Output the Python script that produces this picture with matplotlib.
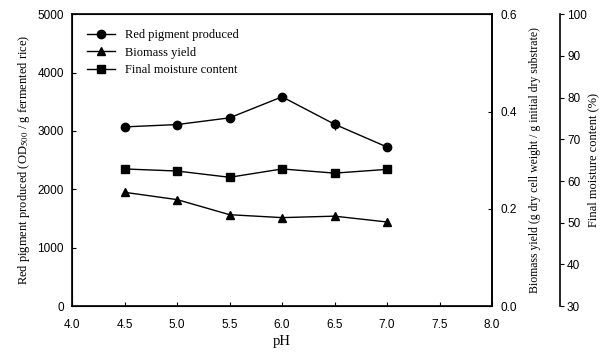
import matplotlib
matplotlib.use("Agg")
import matplotlib.pyplot as plt

# values
ph = [4.5, 5.0, 5.5, 6.0, 6.5, 7.0]
pigment = [3070, 3110, 3225, 3585, 3115, 2725]
pigment_err = [40, 40, 50, 40, 90, 40]
biomass = [0.234, 0.219, 0.188, 0.182, 0.185, 0.173]
biomass_err = [0.003, 0.003, 0.004, 0.003, 0.004, 0.003]
moisture = [62.9, 62.4, 60.9, 62.9, 61.9, 62.8]
moisture_err = [0.4, 0.4, 0.9, 0.5, 0.4, 0.4]

serif = "Liberation Serif"
sans = "Liberation Sans"
plt.rcParams['mathtext.fontset'] = 'stix'

fig = plt.figure(figsize=(6.06, 3.54), dpi=100)
ax = fig.add_axes([0.119, 0.135, 0.693, 0.825])
ax2 = ax.twinx()
ax3 = ax.twinx()
# 68 px outward from the biomass axis (offset is in points)
ax3.spines['right'].set_position(('outward', 68 * 72 / 100))
for s in ['top', 'left', 'bottom']:
    ax3.spines[s].set_visible(False)

kw = dict(color='black', lw=1, markersize=6)
l1, = ax.plot(ph, pigment, marker='o', **kw)
l2, = ax2.plot(ph, biomass, marker='^', **kw)
l3, = ax3.plot(ph, moisture, marker='s', **kw)
ekw = dict(fmt='none', ecolor='black', elinewidth=0.8, capsize=0)
ax.errorbar(ph, pigment, yerr=pigment_err, **ekw)
ax2.errorbar(ph, biomass, yerr=biomass_err, **ekw)
ax3.errorbar(ph, moisture, yerr=moisture_err, **ekw)

ax.set_xlim(4.0, 8.0)
ax.set_ylim(0, 5000)
ax2.set_ylim(0, 0.6)
ax3.set_ylim(30, 100)
ax.set_xticks([4.0, 4.5, 5.0, 5.5, 6.0, 6.5, 7.0, 7.5, 8.0])
ax.set_xticklabels(['4.0', '4.5', '5.0', '5.5', '6.0', '6.5', '7.0', '7.5', '8.0'])
ax.set_yticks(range(0, 5001, 1000))
ax2.set_yticks([0.0, 0.2, 0.4, 0.6])
ax2.set_yticklabels(['0.0', '0.2', '0.4', '0.6'])
ax3.set_yticks(range(30, 101, 10))

for a in (ax, ax2, ax3):
    a.tick_params(labelsize=8.5, direction='in', length=3, width=0.8)
    for lab in a.get_xticklabels() + a.get_yticklabels():
        lab.set_fontfamily(sans)
ax.tick_params(axis='x', pad=9)
ax.tick_params(axis='y', pad=6)
ax2.tick_params(axis='y', pad=6)
ax3.tick_params(direction='out', pad=2)
for sp in ax.spines.values():
    sp.set_linewidth(1.2)
ax2.spines['right'].set_linewidth(1.2)
ax3.spines['right'].set_linewidth(1.2)

ax.set_xlabel('pH', fontsize=10.5, family=serif, labelpad=3)
ax.set_ylabel(r'Red pigment produced (OD$_{500}$ / g fermented rice)', fontsize=9, family=serif, labelpad=4)
ax2.set_ylabel('Biomass yield (g dry cell weight / g initial dry substrate)', fontsize=8.5, family=serif, labelpad=9)
ax3.set_ylabel('Final moisture content (%)', fontsize=9, family=serif, labelpad=0)

leg = ax.legend([l1, l2, l3], ['Red pigment produced', 'Biomass yield', 'Final moisture content'],
                loc='upper left', frameon=False, prop={'family': serif, 'size': 9},
                handlelength=2.2, labelspacing=0.45, borderaxespad=0.8)

fig.savefig('out.png', dpi=100)
